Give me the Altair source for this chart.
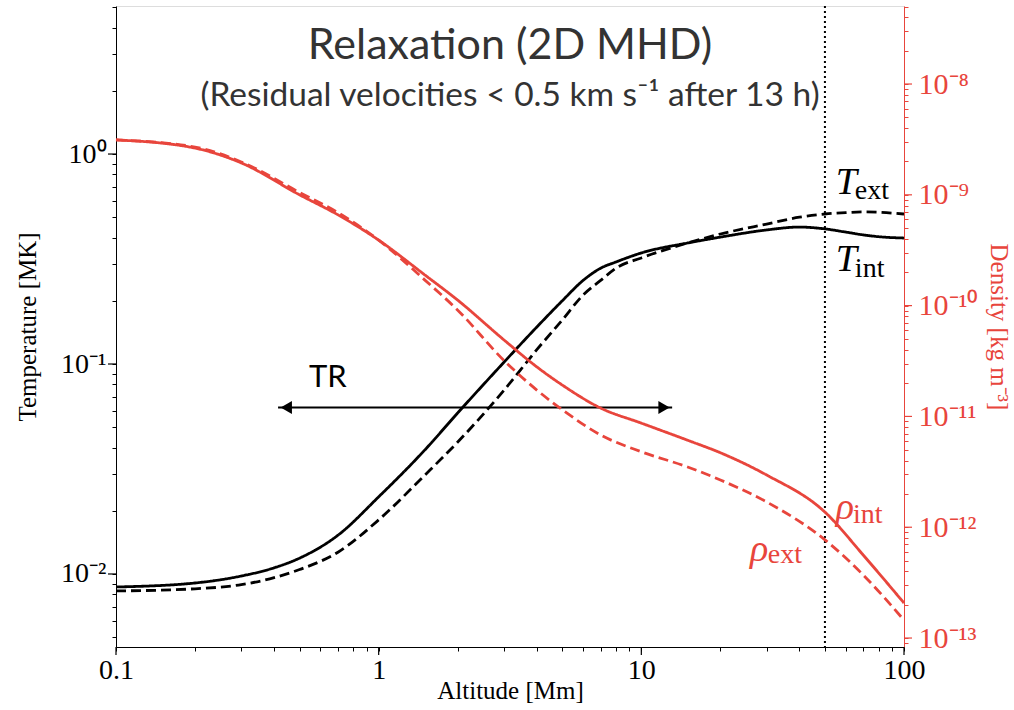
import altair as alt
import pandas as pd

# ---------------- data ----------------
alt_T = [0.1, 0.2, 0.3, 0.4, 0.5, 0.7, 1.0, 1.5, 2, 3, 4, 5, 6, 7, 8, 10, 15, 20, 30, 40, 50, 60, 70, 80, 100]
T_int = [0.00867, 0.00906, 0.00978, 0.0107, 0.0119, 0.0153, 0.0233, 0.039, 0.0585, 0.102, 0.15, 0.20, 0.25,
         0.286, 0.306, 0.338, 0.377, 0.402, 0.435, 0.449, 0.44, 0.425, 0.412, 0.404, 0.398]
T_ext = [0.0083, 0.0085, 0.0089, 0.0096, 0.0105, 0.0127, 0.0181, 0.0296, 0.0425, 0.075, 0.117, 0.162, 0.213,
         0.25, 0.286, 0.32, 0.377, 0.416, 0.464, 0.50, 0.518, 0.526, 0.53, 0.528, 0.518]

alt_R = [0.1, 0.2, 0.3, 0.5, 0.7, 1.0, 1.5, 2, 3, 4, 5, 7, 10, 15, 20, 30, 50, 70, 100]
rho_int = [3.13e-9, 2.64e-9, 1.94e-9, 1.0e-9, 6.6e-10, 3.9e-10, 1.89e-10, 1.12e-10, 4.9e-11, 2.8e-11,
           1.92e-11, 1.19e-11, 8.7e-12, 6.1e-12, 4.7e-12, 2.96e-12, 1.37e-12, 5.6e-13, 2.07e-13]
rho_ext = [3.13e-9, 2.7e-9, 1.98e-9, 1.05e-9, 6.9e-10, 3.9e-10, 1.7e-10, 9.1e-11, 3.2e-11, 1.73e-11,
           1.15e-11, 6.8e-12, 4.8e-12, 3.5e-12, 2.67e-12, 1.69e-12, 7.7e-13, 3.7e-13, 1.45e-13]

x_major = [0.1, 1, 10, 100]
x_minor = [m * d for d in (0.1, 1, 10) for m in range(2, 10)]
T_major = [0.01, 0.1, 1]
T_minor = [m * d for d in (0.001, 0.01, 0.1, 1) for m in range(2, 10)]
T_minor = [v for v in T_minor if 0.00449 <= v <= 5.07]
R_major = [1e-13, 1e-12, 1e-11, 1e-10, 1e-9, 1e-8]
R_minor = [m * d for d in (1e-14, 1e-13, 1e-12, 1e-11, 1e-10, 1e-9, 1e-8) for m in range(2, 10)]
R_minor = [v for v in R_minor if 8.3e-14 <= v <= 5.06e-8]

boundary_x = 50
arrow_x = [0.414, 13.1]
arrow_T = 0.062
arrow_heads_x = [0.445, 12.2]

title_text = "Relaxation (2D MHD)"
subtitle_text = "(Residual velocities < 0.5 km s⁻¹ after 13 h)"

RED = "#e8453c"
W, H = 788, 641
SERIF = "Liberation Serif"
SANS = "Lato"
LABEL_SIZE = 28
TITLE_SIZE = 25

x_scale = alt.Scale(type="log", domain=[0.1, 100], nice=False)
T_scale = alt.Scale(type="log", domain=[0.00449, 5.07], nice=False)
R_scale = alt.Scale(type="log", domain=[8.3e-14, 5.06e-8], nice=False)

x_axis = alt.Axis(
    title="Altitude [Mm]", values=x_major + x_minor,
    labelExpr="datum.value == 0.1 ? '0.1' : datum.value == 1 ? '1' : datum.value == 10 ? '10' : datum.value == 100 ? '100' : ''",
    grid=False, tickSize=4, tickColor="black", domainColor="black", labelColor="black",
    labelFont=SERIF, labelFontSize=LABEL_SIZE, titleFont=SERIF, titleFontSize=TITLE_SIZE, titleFontWeight="normal",
    titleColor="black", labelPadding=5, titleY=43, titleBaseline="middle", labelOverlap=False, labelFlush=False,
)
T_axis = alt.Axis(
    title="Temperature [MK]", orient="left", values=T_major + T_minor,
    labelExpr="datum.value == 1 ? '10⁰' : datum.value == 0.1 ? '10⁻¹' : (datum.value == 0.01 ? '10⁻²' : '')",
    grid=False, tickSize=4, tickColor="black", domainColor="black", labelColor="black",
    labelFont=SERIF, labelFontSize=LABEL_SIZE, titleFont=SERIF, titleFontSize=TITLE_SIZE, titleFontWeight="normal",
    titleColor="black", labelPadding=6, titlePadding=20, labelOverlap=False, labelFlush=False,
)
R_axis = alt.Axis(
    title="Density [kg m⁻³]", orient="right", values=R_major + R_minor,
    labelExpr="indexof([1e-13,1e-12,1e-11,1e-10,1e-9,1e-8], datum.value) >= 0 ? "
              "['10⁻¹³','10⁻¹²','10⁻¹¹','10⁻¹⁰','10⁻⁹','10⁻⁸'][indexof([1e-13,1e-12,1e-11,1e-10,1e-9,1e-8], datum.value)] : ''",
    grid=False, tickSize=4, tickColor=RED, domainColor=RED, labelColor=RED,
    labelFont=SERIF, labelFontSize=30, titleFont=SERIF, titleFontSize=TITLE_SIZE, titleFontWeight="normal",
    titleColor=RED, labelPadding=10, titlePadding=8, labelOverlap=False, labelFlush=False,
)

X = alt.X("x:Q", scale=x_scale, axis=x_axis)
YT = alt.Y("T:Q", scale=T_scale, axis=T_axis)
YR = alt.Y("rho:Q", scale=R_scale, axis=R_axis)
DASH = alt.StrokeDash("s:N", scale=alt.Scale(domain=["int", "ext"], range=[[1, 0], [10, 5]]), legend=None)

# ---------------- temperature layer ----------------
df_T = pd.DataFrame({
    "x": alt_T + alt_T,
    "T": T_int + T_ext,
    "s": ["int"] * len(alt_T) + ["ext"] * len(alt_T),
})
T_lines = alt.Chart(df_T).mark_line(color="black", strokeWidth=2.8, interpolate="monotone").encode(
    x=X, y=YT, detail="s:N", strokeDash=DASH)

T_maj = alt.Chart(pd.DataFrame({"T": T_major})).mark_rule(color="black", strokeWidth=1.2).encode(
    y=YT, x=alt.value(-8), x2=alt.value(0))
x_maj = alt.Chart(pd.DataFrame({"x": x_major})).mark_rule(color="black", strokeWidth=1.2).encode(
    x=X, y=alt.value(H), y2=alt.value(H + 8))

vline = alt.Chart(pd.DataFrame({"x": [boundary_x]})).mark_rule(
    color="black", strokeWidth=2, strokeDash=[2, 3]).encode(x=X)

arrow_line = alt.Chart(pd.DataFrame({"x": arrow_x, "T": [arrow_T, arrow_T]})).mark_line(
    color="black", strokeWidth=2).encode(x=X, y=YT)
arrow_heads = alt.Chart(pd.DataFrame({"x": arrow_heads_x, "T": [arrow_T, arrow_T],
                                      "sh": ["triangle-left", "triangle-right"]})).mark_point(
    filled=True, color="black", size=170, opacity=1).encode(
    x=X, y=YT, shape=alt.Shape("sh:N", scale=None, legend=None))

tr_text = alt.Chart(pd.DataFrame({"x": [0.64], "T": [0.0857], "t": ["TR"]})).mark_text(
    font=SANS, fontSize=31, color="black").encode(x=X, y=YT, text="t:N")

T_main = alt.Chart(pd.DataFrame({"x": [55, 55], "T": [0.73, 0.313], "t": ["T", "T"]})).mark_text(
    font=SERIF, fontSize=38, fontStyle="italic", color="black", align="left", baseline="middle").encode(
    x=X, y=YT, text="t:N")
T_sub = alt.Chart(pd.DataFrame({"x": [65.0, 65.0], "T": [0.665, 0.284], "t": ["ext", "int"]})).mark_text(
    font=SERIF, fontSize=28, color="black", align="left", baseline="middle").encode(
    x=X, y=YT, text="t:N")

title = alt.Chart(pd.DataFrame({"t": [title_text]})).mark_text(
    font=SANS, fontSize=43, color="#333333", align="center", baseline="middle").encode(
    x=alt.value(394), y=alt.value(40), text="t:N")
subtitle = alt.Chart(pd.DataFrame({"t": [subtitle_text]})).mark_text(
    font=SANS, fontSize=33.5, color="#333333", align="center", baseline="middle").encode(
    x=alt.value(394), y=alt.value(90), text="t:N")

temp_layer = alt.layer(T_lines, T_maj, x_maj, vline, arrow_line, arrow_heads, tr_text, T_main, T_sub,
                       title, subtitle)

# ---------------- density layer ----------------
df_R = pd.DataFrame({
    "x": alt_R + alt_R,
    "rho": rho_int + rho_ext,
    "s": ["int"] * len(alt_R) + ["ext"] * len(alt_R),
})
R_lines = alt.Chart(df_R).mark_line(color=RED, strokeWidth=2.8, interpolate="monotone").encode(
    x=X, y=YR, detail="s:N", strokeDash=DASH)
R_maj = alt.Chart(pd.DataFrame({"rho": R_major})).mark_rule(color=RED, strokeWidth=1.2).encode(
    y=YR, x=alt.value(W), x2=alt.value(W + 8))

rho_main = alt.Chart(pd.DataFrame({"x": [55, 25.9], "rho": [1.49e-12, 6.2e-13], "t": ["ρ", "ρ"]})).mark_text(
    font=SERIF, fontSize=38, fontStyle="italic", color=RED, align="left", baseline="middle").encode(
    x=X, y=YR, text="t:N")
rho_sub = alt.Chart(pd.DataFrame({"x": [64.0, 30.3], "rho": [1.3e-12, 5.6e-13], "t": ["int", "ext"]})).mark_text(
    font=SERIF, fontSize=28, color=RED, align="left", baseline="middle").encode(
    x=X, y=YR, text="t:N")

rho_layer = alt.layer(R_lines, R_maj, rho_main, rho_sub)

chart = alt.layer(temp_layer, rho_layer).resolve_scale(y="independent", strokeDash="independent").properties(
    width=W, height=H,
    autosize=alt.AutoSizeParams(type="none"),
    padding={"left": 116, "top": 6, "right": 110, "bottom": 63},
).configure_view(stroke="black", strokeWidth=1.5).configure(background="white")

chart.save("out.html", embed_options={"renderer": "svg", "actions": False})
